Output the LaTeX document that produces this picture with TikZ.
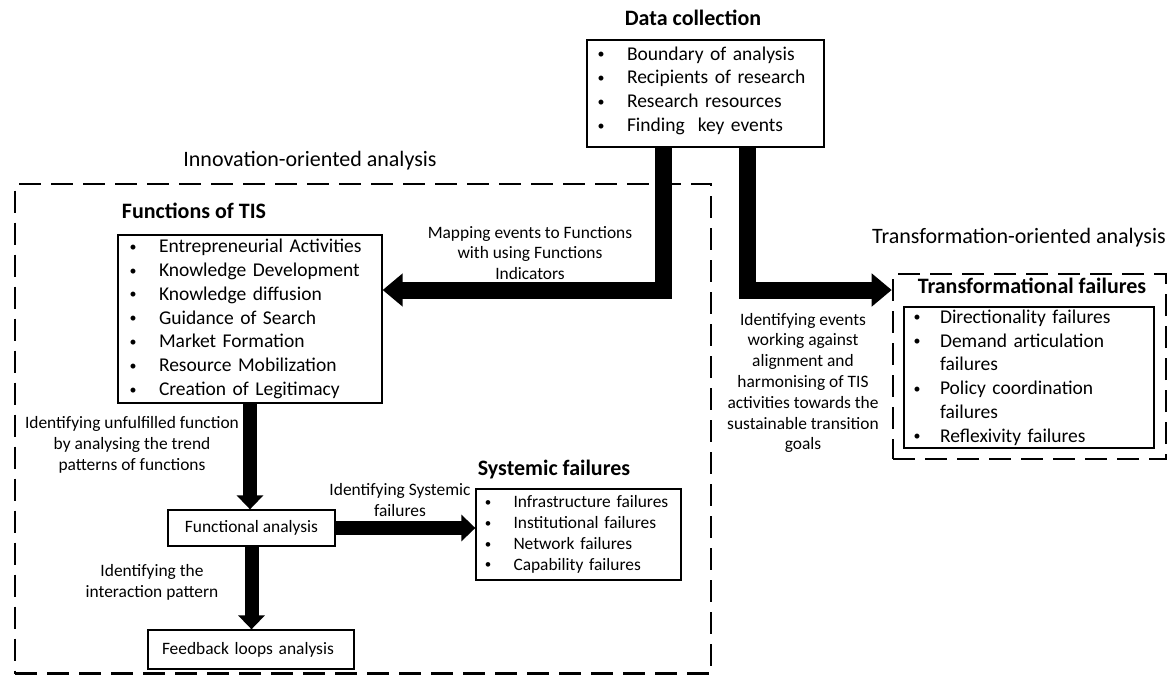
\documentclass[tikz,border=0pt]{standalone}
\usepackage{fontspec}
\setmainfont{Carlito}
\usetikzlibrary{arrows.meta}
% list bullet: a small dot centred in a 6pt slot, then a gap up to the item text
\newcommand\blt[2][14]{\makebox[#2][l]{\makebox[6pt]{\raisebox{1.4pt}{\fontsize{#1}{#1}\selectfont\textbullet}}}}

\begin{document}
\begin{tikzpicture}[x=1pt,y=-1pt,
  box/.style={draw, line width=1.3pt, inner ysep=0pt},
  big/.style={font=\fontsize{19.5}{23.8}\selectfont},
  small/.style={font=\fontsize{17.4}{20.8}\selectfont},
  listbox/.style={box, align=left},
  dashbox/.style={draw, line width=2.6pt, dash pattern=on 22pt off 10pt, inner sep=0pt},
  title/.style={font=\fontsize{22}{26}\selectfont\bfseries, anchor=mid, inner sep=0pt},
  heading/.style={font=\fontsize{22}{26}\selectfont, anchor=mid, inner sep=0pt},
  lbl/.style={small, align=center, inner sep=0pt},
  bigarrow/.style={line width=17pt, -{Triangle[length=20pt,width=32pt]}},
  midarrow/.style={line width=14pt, -{Triangle[length=14pt,width=26pt]}},
]
\useasboundingbox (0,0) rectangle (1173,675);

% section frames
\node[dashbox, minimum width=696, minimum height=489.5] (inno) at (363,428.75) {};
\node[dashbox, minimum width=273, minimum height=185] (trans) at (1029.5,366.5) {};

% headings
\node[heading] (innoh) at (310,164) {Innovation-oriented analysis};
\node[heading] (transh) at (1019,241) {Transformation-oriented analysis};
\node[title] (dch) at (693,23) {Data collection};
\node[title] (funch) at (194,216) {Functions of TIS};
\node[title] (sysh) at (554,473) {Systemic failures};
\node[title] (trh) at (1032,291) {Transformational failures};

% data collection
\node[listbox, big, inner xsep=11pt, text width=215pt, minimum height=107pt] (dc) at (705.5,93.5)
  {\blt{29pt}Boundary of analysis\\ \blt{29pt}Recipients of research\\ \blt{29pt}Research resources\\
   \blt{29pt}Finding\ \ key events\rule[-9pt]{0pt}{0pt}};

% functions of TIS
\node[listbox, big, inner xsep=12pt, text width=240pt, minimum height=168pt] (func) at (250,319)
  {\blt{29pt}Entrepreneurial Activities\\ \blt{29pt}Knowledge Development\\ \blt{29pt}Knowledge diffusion\\
   \blt{29pt}Guidance of Search\\ \blt{29pt}Market Formation\\ \blt{29pt}Resource Mobilization\\
   \blt{29pt}Creation of Legitimacy};

% transformational failures
\node[listbox, big, inner xsep=10pt, text width=230pt, minimum height=141pt] (tf) at (1029,377.5)
  {\blt{26pt}Directionality failures\\ \blt{26pt}Demand articulation\\ \hspace*{26pt}failures\\
   \blt{26pt}Policy coordination\\ \hspace*{26pt}failures\\ \blt{26pt}Reflexivity failures};

% systemic failures
\node[listbox, small, inner xsep=9pt, text width=187pt, minimum height=91pt] (sys) at (578.5,534.5)
  {\blt[13]{28.5pt}Infrastructure failures\\ \blt[13]{28.5pt}Institutional failures\\
   \blt[13]{28.5pt}Network failures\\ \blt[13]{28.5pt}Capability failures};

% analysis steps
\node[box, small, minimum width=167pt, minimum height=36pt, inner xsep=0pt] (fa) at (251.5,528) {Functional analysis};
\node[box, small, align=left, inner xsep=14pt, text width=178pt, minimum height=39pt] (fb) at (251,649.5) {Feedback loops analysis};

% arrows
\coordinate (lvl) at (0,290);
\draw[bigarrow] ([xshift=-42pt]dc.south) |- (func.east |- lvl);
\draw[bigarrow] ([xshift=42pt]dc.south) |- (trans.west |- lvl);
\draw[midarrow] (func.south) -- (func.south |- fa.north);
\draw[midarrow] (fa.east) -- (fa.east -| sys.west);
\draw[midarrow] (fa.south) -- (fa.south |- fb.north);

% arrow labels
\node[lbl] (l1) at (530,253) {Mapping events to Functions\\with using Functions\\Indicators};
\node[lbl] (l2) at (803,383) {Identifying events\\working against\\alignment and\\harmonising of TIS\\activities towards the\\sustainable transition\\goals};
\node[lbl] (l3) at (132,445) {Identifying unfulfilled function\\by analysing the trend\\patterns of functions};
\node[lbl] (l4) at (400,500) {Identifying Systemic\\failures};
\node[lbl] (l5) at (152,582) {Identifying the\\interaction pattern};
\end{tikzpicture}
\end{document}
